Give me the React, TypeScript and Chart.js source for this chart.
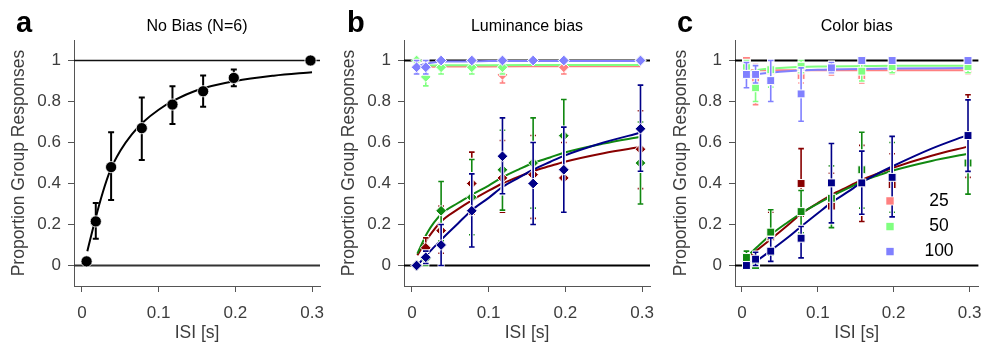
import React, { useEffect, useRef } from 'react';
import { Chart, registerables } from 'chart.js';

Chart.register(...registerables);

const FONT = "'Liberation Sans', Arial, Helvetica, sans-serif";

// ---------- shared axes / text ----------
const isi = [0.006, 0.018, 0.038, 0.078, 0.118, 0.158, 0.198, 0.298];
const xTicks = [0, 0.1, 0.2, 0.3];
const yTicks = [0, 0.2, 0.4, 0.6, 0.8, 1];
const panelTitles = ['No Bias (N=6)', 'Luminance bias', 'Color bias'];
const panelLetters = ['a', 'b', 'c'];
const legendLabels = ['25', '50', '100'];
const xTitle = 'ISI [s]';
const yTitle = 'Proportion Group Responses';
const refValues = [0, 1];

// ---------- panel a: no bias ----------
const noBiasMean = [0.02, 0.215, 0.48, 0.67, 0.785, 0.85, 0.915, 1.0];
const noBiasLo = [0.02, 0.13, 0.32, 0.515, 0.69, 0.775, 0.875, 1.0];
const noBiasHi = [0.02, 0.305, 0.65, 0.82, 0.875, 0.927, 0.956, 1.0];
const noBiasFitX = [0.007, 0.017, 0.027, 0.037, 0.05, 0.065, 0.08, 0.1, 0.12, 0.15, 0.2, 0.25, 0.3];
const noBiasFitY = [0.07, 0.22, 0.355, 0.465, 0.56, 0.64, 0.70, 0.76, 0.805, 0.855, 0.9, 0.926, 0.943];

// ---------- fit x grids ----------
const fitX = [0.007, 0.02, 0.038, 0.06, 0.078, 0.1, 0.118, 0.14, 0.158, 0.18, 0.198, 0.25, 0.298];
const fitXLight = [0.007, 0.018, 0.03, 0.05, 0.1, 0.2, 0.298];

// ---------- panel b: luminance bias ----------
const lumNavy = [0.0, 0.04, 0.1, 0.267, 0.533, 0.4, 0.467, 0.667];
const lumNavyLo = [0.0, 0.01, 0.0, 0.09, 0.35, 0.2, 0.26, 0.46];
const lumNavyHi = [0.0, 0.07, 0.2, 0.447, 0.72, 0.6, 0.675, 0.88];
const lumGreen = [0.0, 0.033, 0.267, 0.333, 0.467, 0.5, 0.633, 0.5];
const lumGreenLo = [0.0, 0.0, 0.12, 0.15, 0.27, 0.28, 0.46, 0.3];
const lumGreenHi = [0.0, 0.07, 0.41, 0.517, 0.66, 0.72, 0.81, 0.7];
const lumRed = [0.0, 0.086, 0.17, 0.4, 0.427, 0.443, 0.427, 0.567];
const lumRedLo = [0.0, 0.04, 0.06, 0.25, 0.26, 0.23, 0.26, 0.375];
const lumRedHi = [0.0, 0.135, 0.29, 0.553, 0.61, 0.634, 0.6, 0.755];
const lumLightBlue = [0.967, 0.967, 1, 1, 1, 1, 1, 1];
const lumLightBlueLo = [0.934, 0.934, 1, 1, 1, 1, 1, 1];
const lumLightBlueHi = [1, 1, 1, 1, 1, 1, 1, 1];
const lumLightGreen = [1.0, 0.92, 0.967, 0.967, 0.967, 1, 1, 1];
const lumLightGreenLo = [1, 0.876, 0.934, 0.934, 0.934, 1, 1, 1];
const lumLightGreenHi = [1, 0.964, 1, 1, 1, 1, 1, 1];
const lumSalmon = [0.967, 0.967, 1, 1, 0.93, 1, 0.967, 1];
const lumSalmonLo = [0.934, 0.934, 1, 1, 0.89, 1, 0.934, 1];
const lumSalmonHi = [1, 1, 1, 1, 0.97, 1, 1, 1];
const lumNavyFit = [0.0, 0.055, 0.125, 0.205, 0.27, 0.33, 0.383, 0.43, 0.467, 0.505, 0.535, 0.6, 0.648];
const lumGreenFit = [0.058, 0.16, 0.25, 0.305, 0.345, 0.39, 0.43, 0.47, 0.5, 0.527, 0.55, 0.595, 0.628];
const lumRedFit = [0.05, 0.13, 0.215, 0.275, 0.318, 0.365, 0.40, 0.435, 0.46, 0.485, 0.505, 0.548, 0.578];
const lumLightBlueFit = [0.97, 0.985, 0.992, 0.995, 0.997, 0.998, 0.998];
const lumLightGreenFit = [0.976, 0.976, 0.976, 0.977, 0.977, 0.978, 0.978];
const lumSalmonFit = [0.97, 0.97, 0.97, 0.971, 0.971, 0.972, 0.972];

// ---------- panel c: color bias ----------
const colNavy = [0.0, 0.031, 0.07, 0.133, 0.403, 0.403, 0.43, 0.634];
const colNavyLo = [0.0, 0.0, 0.02, 0.037, 0.208, 0.25, 0.237, 0.459];
const colNavyHi = [0.0, 0.065, 0.135, 0.19, 0.595, 0.558, 0.63, 0.808];
const colGreen = [0.039, 0.0, 0.163, 0.263, 0.328, 0.467, 0.433, 0.5];
const colGreenLo = [0.0, 0.0, 0.05, 0.16, 0.185, 0.28, 0.26, 0.348];
const colGreenHi = [0.07, 0.0, 0.272, 0.366, 0.486, 0.65, 0.6, 0.65];
const colRed = [0.03, 0.01, 0.14, 0.4, 0.29, 0.4, 0.395, 0.633];
const colRedLo = [0.0, 0.0, 0.02, 0.24, 0.182, 0.215, 0.255, 0.43];
const colRedHi = [0.06, 0.03, 0.26, 0.57, 0.45, 0.586, 0.545, 0.833];
const colLightBlue = [0.932, 0.932, 0.902, 0.837, 0.964, 1.0, 1.0, 1.0];
const colLightBlueLo = [0.867, 0.89, 0.8, 0.704, 0.94, 1, 1, 1];
const colLightBlueHi = [0.99, 0.975, 1.0, 0.964, 0.99, 1, 1, 1];
const colLightGreen = [0.972, 0.867, 0.955, 0.972, 0.967, 0.948, 0.97, 0.97];
const colLightGreenLo = [0.94, 0.80, 0.87, 0.94, 0.94, 0.9, 0.94, 0.94];
const colLightGreenHi = [1.0, 0.93, 1.0, 1.0, 0.99, 0.99, 1.0, 1.0];
const colSalmon = [1.0, 0.9, 0.95, 0.927, 0.96, 0.927, 0.955, 0.955];
const colSalmonLo = [0.95, 0.785, 0.9, 0.89, 0.93, 0.89, 0.935, 0.935];
const colSalmonHi = [1.0, 0.98, 1.0, 0.96, 0.99, 0.96, 0.985, 0.985];
const colNavyFit = [0.0, 0.025, 0.073, 0.135, 0.19, 0.255, 0.307, 0.36, 0.405, 0.45, 0.483, 0.57, 0.637];
const colGreenFit = [0.044, 0.09, 0.15, 0.21, 0.255, 0.302, 0.337, 0.377, 0.41, 0.44, 0.462, 0.51, 0.545];
const colRedFit = [0.036, 0.075, 0.128, 0.195, 0.252, 0.305, 0.345, 0.385, 0.418, 0.45, 0.475, 0.535, 0.58];
const colLightBlueFit = [0.925, 0.932, 0.938, 0.945, 0.955, 0.961, 0.963];
const colLightGreenFit = [0.945, 0.952, 0.958, 0.964, 0.971, 0.974, 0.975];
const colSalmonFit = [0.952, 0.952, 0.952, 0.952, 0.953, 0.953, 0.953];

// ---------- colours ----------
const NAVY = '#000088';
const GREEN = '#118811';
const DARKRED = '#880000';
const LBLUE = '#8080ff';
const LGREEN = '#80ff80';
const SALMON = '#ff8080';
const AXIS = '#555555';
const TEXT = '#3d3d3d';

type Series = { color: string; y: number[]; lo: number[]; hi: number[]; fx: number[]; fy: number[] };

function pointsDs(s: Series, style: string, radius: number, halo: boolean) {
  return {
    data: isi.map((x, i) => ({ x, y: s.y[i] })),
    showLine: false,
    pointStyle: style,
    pointRadius: radius,
    pointHoverRadius: radius,
    pointBackgroundColor: s.color,
    pointBorderColor: '#ffffff',
    pointBorderWidth: halo ? 1 : 0.8,
    errLo: s.lo,
    errHi: s.hi,
    errColor: s.color,
    errHalo: halo,
  } as any;
}

function fitDs(s: Series) {
  return {
    data: s.fx.map((x, i) => ({ x, y: s.fy[i] })),
    showLine: true,
    pointRadius: 0,
    pointHoverRadius: 0,
    borderColor: s.color,
    borderWidth: 2,
    tension: 0,
    cubicInterpolationMode: 'monotone',
    fill: false,
  } as any;
}

const errorBarPlugin = {
  id: 'errorBars',
  beforeDatasetDraw(chart: any, args: any) {
    const ds: any = chart.data.datasets[args.index];
    if (!ds.errLo) return;
    const ctx = chart.ctx;
    const ys = chart.scales.y;
    const pts = args.meta.data;
    const passes: [string, number, number][] = ds.errHalo
      ? [['#ffffff', 3.5, 3.5], [ds.errColor, 1.6, 2.8]]
      : [[ds.errColor, 2, 3]];
    ctx.save();
    for (const [col, w, c] of passes) {
      ctx.strokeStyle = col;
      ctx.lineWidth = w;
      ctx.beginPath();
      pts.forEach((p: any, i: number) => {
        const y1 = ys.getPixelForValue(ds.errLo[i]);
        const y2 = ys.getPixelForValue(ds.errHi[i]);
        if (Math.abs(y1 - y2) < 1) return;
        ctx.moveTo(p.x, y1);
        ctx.lineTo(p.x, y2);
        ctx.moveTo(p.x - c, y1);
        ctx.lineTo(p.x + c, y1);
        ctx.moveTo(p.x - c, y2);
        ctx.lineTo(p.x + c, y2);
      });
      ctx.stroke();
    }
    ctx.restore();
  },
};

const refLinePlugin = {
  id: 'refLines',
  beforeDatasetsDraw(chart: any) {
    const o = chart.options.plugins.refLines;
    if (!o) return;
    const { ctx, chartArea } = chart;
    const ys = chart.scales.y;
    ctx.save();
    o.lines.forEach((l: any) => {
      const y = ys.getPixelForValue(l.value);
      ctx.strokeStyle = l.color;
      ctx.lineWidth = l.width;
      ctx.beginPath();
      ctx.moveTo(chartArea.left, y);
      ctx.lineTo(chartArea.right, y);
      ctx.stroke();
    });
    ctx.restore();
  },
};

const panelTextPlugin = {
  id: 'panelText',
  afterDraw(chart: any) {
    const o = chart.options.plugins.panelText;
    if (!o) return;
    const { ctx, chartArea } = chart;
    ctx.save();
    ctx.fillStyle = '#000';
    ctx.font = `bold 29px ${FONT}`;
    ctx.textAlign = 'left';
    ctx.textBaseline = 'alphabetic';
    ctx.fillText(o.letter, o.letterX, 32);
    ctx.font = `16px ${FONT}`;
    ctx.textAlign = 'center';
    ctx.textBaseline = 'middle';
    ctx.fillText(o.title, (chartArea.left + chartArea.right) / 2, 27);
    if (o.legend) {
      const ys = chart.scales.y;
      o.legend.forEach((item: any) => {
        const y = ys.getPixelForValue(item.value);
        ctx.fillStyle = '#ffffff';
        ctx.fillRect(o.legendX - 4.5, y - 4.5, 9, 9);
        ctx.fillStyle = item.color;
        ctx.fillRect(o.legendX - 3.7, y - 3.7, 7.4, 7.4);
        ctx.fillStyle = '#000';
        ctx.font = `17.5px ${FONT}`;
        ctx.textAlign = 'center';
        ctx.fillText(item.label, o.legendTextX, y);
      });
    }
    ctx.restore();
  },
};

type PanelCfg = {
  datasets: any[];
  xmin: number;
  xmax: number;
  yAxisWidth: number;
  padRight: number;
  yTitlePad: number;
  letter: string;
  letterX: number;
  title: string;
  refLines: { value: number; color: string; width: number }[];
  legend?: { label: string; color: string; value: number }[];
  legendX?: number;
  legendTextX?: number;
};

function buildConfig(p: PanelCfg): any {
  return {
    type: 'scatter',
    data: { datasets: p.datasets },
    plugins: [errorBarPlugin, refLinePlugin, panelTextPlugin],
    options: {
      responsive: false,
      animation: false,
      events: [],
      layout: { padding: { top: 40, right: p.padRight, left: 0, bottom: 0 } },
      plugins: {
        legend: { display: false },
        tooltip: { enabled: false },
        refLines: { lines: p.refLines },
        panelText: {
          letter: p.letter,
          letterX: p.letterX,
          title: p.title,
          legend: p.legend,
          legendX: p.legendX,
          legendTextX: p.legendTextX,
        },
      },
      scales: {
        x: {
          type: 'linear',
          min: p.xmin,
          max: p.xmax,
          border: { display: true, color: AXIS, width: 1 },
          grid: { display: true, drawOnChartArea: false, drawTicks: true, tickLength: 6, tickColor: AXIS, tickWidth: 1 },
          ticks: {
            font: { family: FONT, size: 17 },
            color: TEXT,
            padding: 11,
            autoSkip: false,
            maxRotation: 0,
            callback: (v: any) => String(v),
          },
          afterBuildTicks: (s: any) => {
            s.ticks = xTicks.map((v) => ({ value: v }));
          },
          afterFit: (s: any) => {
            s.height = 62;
            s.paddingLeft = 0;
            s.paddingRight = 0;
          },
          title: {
            display: true,
            text: xTitle,
            font: { family: FONT, size: 17.5 },
            color: TEXT,
            padding: { top: 0, bottom: 4 },
          },
        },
        y: {
          type: 'linear',
          min: -0.1,
          max: 1.1,
          border: { display: true, color: AXIS, width: 1 },
          grid: { display: true, drawOnChartArea: false, drawTicks: true, tickLength: 6, tickColor: AXIS, tickWidth: 1 },
          ticks: {
            font: { family: FONT, size: 17 },
            color: TEXT,
            padding: 7,
            autoSkip: false,
            callback: (v: any) => String(v),
          },
          afterBuildTicks: (s: any) => {
            s.ticks = yTicks.map((v) => ({ value: v }));
          },
          afterFit: (s: any) => {
            s.width = p.yAxisWidth;
            s.paddingTop = 0;
            s.paddingBottom = 0;
          },
          title: {
            display: true,
            text: yTitle,
            font: { family: FONT, size: 17.5 },
            color: TEXT,
            padding: { top: p.yTitlePad, bottom: 0 },
          },
        },
      },
    },
  };
}

function seriesSet(
  dark: [number[], number[], number[], number[]][],
  light: [number[], number[], number[], number[]][],
  fxDark: number[],
  fxLight: number[],
): { dark: Series[]; light: Series[] } {
  const dc = [NAVY, GREEN, DARKRED];
  const lc = [LBLUE, LGREEN, SALMON];
  return {
    dark: dark.map((d, i) => ({ color: dc[i], y: d[0], lo: d[1], hi: d[2], fx: fxDark, fy: d[3] })),
    light: light.map((d, i) => ({ color: lc[i], y: d[0], lo: d[1], hi: d[2], fx: fxLight, fy: d[3] })),
  };
}

function biasDatasets(set: { dark: Series[]; light: Series[] }, style: string, radius: number) {
  return [
    ...set.dark.map((s) => pointsDs(s, style, radius, true)),
    ...set.light.map((s) => pointsDs(s, style, radius, true)),
    ...set.dark.map((s) => fitDs(s)),
    ...set.light.map((s) => fitDs(s)),
  ];
}

const lumSet = seriesSet(
  [
    [lumNavy, lumNavyLo, lumNavyHi, lumNavyFit],
    [lumGreen, lumGreenLo, lumGreenHi, lumGreenFit],
    [lumRed, lumRedLo, lumRedHi, lumRedFit],
  ],
  [
    [lumLightBlue, lumLightBlueLo, lumLightBlueHi, lumLightBlueFit],
    [lumLightGreen, lumLightGreenLo, lumLightGreenHi, lumLightGreenFit],
    [lumSalmon, lumSalmonLo, lumSalmonHi, lumSalmonFit],
  ],
  fitX,
  fitXLight,
);

const colSet = seriesSet(
  [
    [colNavy, colNavyLo, colNavyHi, colNavyFit],
    [colGreen, colGreenLo, colGreenHi, colGreenFit],
    [colRed, colRedLo, colRedHi, colRedFit],
  ],
  [
    [colLightBlue, colLightBlueLo, colLightBlueHi, colLightBlueFit],
    [colLightGreen, colLightGreenLo, colLightGreenHi, colLightGreenFit],
    [colSalmon, colSalmonLo, colSalmonHi, colSalmonFit],
  ],
  fitX,
  fitXLight,
);

const noBiasSeries: Series = { color: '#000000', y: noBiasMean, lo: noBiasLo, hi: noBiasHi, fx: noBiasFitX, fy: noBiasFitY };

const panels: { left: number; cfg: PanelCfg }[] = [
  {
    left: 0,
    cfg: {
      datasets: [pointsDs(noBiasSeries, 'circle', 5.6, false), fitDs(noBiasSeries)],
      xmin: -0.0104,
      xmax: 0.3104,
      yAxisWidth: 74,
      padRight: 10,
      yTitlePad: 9,
      letter: panelLetters[0],
      letterX: 16,
      title: panelTitles[0],
      refLines: [
        { value: refValues[1], color: '#111111', width: 1.5 },
        { value: refValues[0], color: '#333333', width: 2 },
      ],
    },
  },
  {
    left: 330,
    cfg: {
      datasets: biasDatasets(lumSet, 'rectRot', 5.4),
      xmin: -0.0104,
      xmax: 0.3104,
      yAxisWidth: 74,
      padRight: 10,
      yTitlePad: 9,
      letter: panelLetters[1],
      letterX: 17,
      title: panelTitles[1],
      refLines: [
        { value: refValues[1], color: '#000000', width: 2 },
        { value: refValues[0], color: '#000000', width: 2 },
      ],
    },
  },
  {
    left: 655,
    cfg: {
      datasets: biasDatasets(colSet, 'rect', 5.6),
      xmin: -0.0091,
      xmax: 0.3117,
      yAxisWidth: 80,
      padRight: 3,
      yTitlePad: 16,
      letter: panelLetters[2],
      letterX: 22,
      title: panelTitles[2],
      refLines: [
        { value: refValues[1], color: '#000000', width: 2 },
        { value: refValues[0], color: '#000000', width: 2 },
      ],
      legend: [
        { label: legendLabels[0], color: SALMON, value: 0.315 },
        { label: legendLabels[1], color: LGREEN, value: 0.19 },
        { label: legendLabels[2], color: LBLUE, value: 0.068 },
      ],
      legendX: 235,
      legendTextX: 284,
    },
  },
];

function Panel({ left, cfg }: { left: number; cfg: PanelCfg }) {
  const ref = useRef<HTMLCanvasElement>(null);
  useEffect(() => {
    const chart = new Chart(ref.current as HTMLCanvasElement, buildConfig(cfg));
    return () => chart.destroy();
  }, []);
  return (
    <div style={{ position: 'absolute', left, top: 0, width: 330, height: 348 }}>
      <canvas ref={ref} width={330} height={348} style={{ display: 'block' }} />
    </div>
  );
}

export default function App() {
  return (
    <div
      style={{
        position: 'absolute',
        left: 0,
        top: 0,
        width: 985,
        height: 348,
        overflow: 'hidden',
        background: '#ffffff',
      }}
    >
      {panels.map((p, i) => (
        <Panel key={i} left={p.left} cfg={p.cfg} />
      ))}
    </div>
  );
}
